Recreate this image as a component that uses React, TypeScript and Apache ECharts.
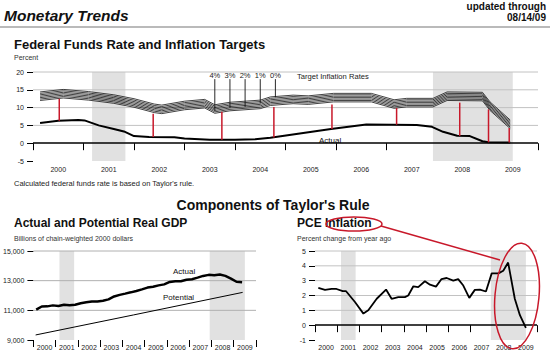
import React, { useEffect, useRef } from 'react';
import * as echarts from 'echarts';

const yearLabels = ['2000', '2001', '2002', '2003', '2004', '2005', '2006', '2007', '2008', '2009'];
const recessions: [number, number][] = [[2001.17, 2001.83], [2007.92, 2009.5]];

// Horizontal grid lines of each panel
const fedGridValues = [5, 10, 15, 20];
const gdpGridValues = [11000, 13000, 15000];
const pceGridValues = [1, 2, 3, 4, 5];

// Top chart: federal funds rate (actual)
const fedActual: [number, number][] = [
  [2000.14, 5.7], [2000.5, 6.3], [2000.9, 6.5], [2001.02, 6.4], [2001.3, 5.0], [2001.6, 4.0],
  [2001.8, 3.3], [2002.0, 2.0], [2002.3, 1.75], [2002.8, 1.7], [2003.0, 1.3], [2003.5, 1.0],
  [2004.0, 1.0], [2004.4, 1.1], [2004.7, 1.5], [2005.9, 4.0], [2006.6, 5.25], [2007.6, 5.1],
  [2007.9, 4.6], [2008.12, 3.2], [2008.4, 2.1], [2008.65, 2.0], [2008.9, 0.55], [2009.02, 0.25],
  [2009.45, 0.2],
];

// Top edge of the Taylor-rule band (0% inflation target)
const bandTop: [number, number][] = [
  [2000.14, 14.4], [2000.6, 15.1], [2001.1, 14.5], [2001.6, 13.6], [2002.0, 12.5], [2002.4, 11.0],
  [2002.55, 10.7], [2003.0, 11.8], [2003.4, 12.3], [2003.6, 10.8], [2003.9, 11.5], [2004.5, 12.1],
  [2004.7, 13.0], [2005.15, 13.5], [2005.45, 13.3], [2005.95, 14.0], [2006.7, 14.0], [2006.95, 13.0],
  [2007.15, 12.2], [2007.4, 12.6], [2007.92, 12.6], [2008.2, 14.4], [2008.9, 14.3], [2009.05, 11.6],
  [2009.45, 6.5],
];
// hatch lines of the band, offset below the top edge
const bandOffsets = [0, 0.4, 0.8, 1.2, 1.6, 2.0, 2.4];

// Red connectors: [date, band value, actual value]
const redLinks: [number, number, number][] = [
  [2000.52, 12.5, 6.3], [2002.38, 8.3, 1.75], [2003.74, 8.8, 1.0], [2004.77, 10.2, 1.6],
  [2005.92, 10.9, 4.0], [2007.2, 9.9, 5.2], [2008.45, 11.4, 2.05], [2009.02, 9.5, 0.25],
  [2009.43, 4.3, 0.2],
];

const targetLabels = ['4%', '3%', '2%', '1%', '0%'];
const targetLeaderX = [2003.6, 2003.9, 2004.2, 2004.5, 2004.8];
const targetLeaderEnd = [9.1, 9.9, 10.2, 11.2, 12.9];

// GDP (quarterly, billions of chain-weighted dollars), 2000Q1 .. 2009Q2
const gdpStart = 2000.125;
const gdpActual = [
  11043, 11258, 11268, 11334,
  11297, 11372, 11340, 11380,
  11477, 11538, 11596, 11599,
  11646, 11738, 11935, 12042,
  12127, 12213, 12304, 12410,
  12534, 12588, 12683, 12749,
  12916, 12962, 12965, 13060,
  13099, 13204, 13321, 13391,
  13367, 13415, 13325, 13142,
  12925, 12901,
];
const gdpPotential: [number, number][] = [[2000.1, 9340], [2004.5, 10690], [2009.4, 12210]];

// PCE inflation, percent change from year ago
const pce: [number, number][] = [
  [2000.15, 2.51], [2000.45, 2.38], [2000.75, 2.44], [2000.97, 2.44], [2001.25, 2.29], [2001.4, 2.29],
  [2001.8, 1.56], [2002.18, 0.78], [2002.4, 1.0], [2002.78, 1.78], [2003.2, 2.4], [2003.45, 1.78],
  [2003.75, 1.89], [2004.05, 1.89], [2004.2, 2.0], [2004.43, 2.62], [2004.65, 2.56], [2004.95, 2.96],
  [2005.18, 2.73], [2005.45, 2.6], [2005.7, 3.11], [2005.93, 3.18], [2006.23, 3.0], [2006.45, 3.1],
  [2006.68, 2.67], [2006.95, 1.84], [2007.2, 2.38], [2007.43, 2.4], [2007.7, 2.27], [2007.96, 3.49],
  [2008.26, 3.49], [2008.48, 3.67], [2008.7, 4.22], [2009.0, 1.78], [2009.23, 0.67], [2009.5, -0.18],
];

const FONT = '"Liberation Sans", Arial, sans-serif';
const RED = '#c8182a';

function catAxis(gridIndex: number, tickLen: number, margin: number) {
  return {
    type: 'category', gridIndex, data: yearLabels, boundaryGap: true, position: 'bottom',
    axisLine: { show: false },
    axisTick: { show: true, length: tickLen, lineStyle: { color: '#000', width: 1 } },
    axisLabel: { fontSize: 7, color: '#222', margin, fontFamily: FONT },
    splitLine: { show: false },
  };
}
function valXAxis(gridIndex: number) {
  return { type: 'value', gridIndex, min: 2000, max: 2010, show: false, splitLine: { show: false } };
}
function valYAxis(gridIndex: number, min: number, max: number, interval: number) {
  return {
    type: 'value', gridIndex, min, max, interval,
    axisLine: { show: false },
    axisTick: { show: true, length: 6, lineStyle: { color: '#000', width: 1 } },
    axisLabel: { fontSize: 7, color: '#222', margin: 9, fontFamily: FONT },
    splitLine: { show: false },
  };
}

function shading(idx: number) {
  return {
    type: 'custom', xAxisIndex: idx * 2 + 1, yAxisIndex: idx, z: 1, silent: true,
    data: recessions,
    renderItem: (params: any, api: any) => {
      const a = api.coord([api.value(0), 0]);
      const b = api.coord([api.value(1), 0]);
      const cs = params.coordSys;
      return { type: 'rect', shape: { x: a[0], y: cs.y, width: b[0] - a[0], height: cs.height }, style: { fill: '#e1e1e1' } };
    },
  };
}

function gridLines(idx: number, values: number[], color: string) {
  return {
    type: 'custom', xAxisIndex: idx * 2 + 1, yAxisIndex: idx, z: 1.5, silent: true,
    data: values.map((v) => [2000, v]),
    renderItem: (params: any, api: any) => {
      const p = api.coord([2000, api.value(1)]);
      const cs = params.coordSys;
      return { type: 'line', shape: { x1: cs.x, y1: p[1], x2: cs.x + cs.width, y2: p[1] }, style: { stroke: color, lineWidth: 1 } };
    },
  };
}

const zeroLine = {
  silent: true, symbol: ['none', 'none'], label: { show: false },
  lineStyle: { color: '#000', width: 1.5, type: 'solid' }, data: [{ yAxis: 0 }],
};

function text(x: number, y: number, t: string, font: string, align = 'left', fill = '#111') {
  return {
    type: 'text', x, y, silent: true,
    style: { text: t, font, fill, textAlign: align, align, textVerticalAlign: 'middle', verticalAlign: 'middle' },
  };
}

export default function App() {
  const ref = useRef<HTMLDivElement>(null);
  useEffect(() => {
    const chart = echarts.init(ref.current!, null, { renderer: 'svg' });
    const bandSeries = bandOffsets.map((off) => ({
      type: 'line', xAxisIndex: 1, yAxisIndex: 0, symbol: 'none', silent: true, z: 3,
      lineStyle: { color: '#111', width: 0.8 },
      data: bandTop.map(([x, y]) => [x, y - off]),
    }));
    const option: any = {
      animation: false,
      backgroundColor: '#fff',
      grid: [
        { left: 33, top: 72, width: 505, height: 89 },
        { left: 33, top: 251, width: 223, height: 89 },
        { left: 315, top: 251, width: 222, height: 89 },
      ],
      xAxis: [catAxis(0, 7, 5), valXAxis(0), catAxis(1, 7, 4), valXAxis(1), catAxis(2, 7, 4), valXAxis(2)],
      yAxis: [valYAxis(0, -5, 20, 5), valYAxis(1, 9000, 15000, 2000), valYAxis(2, -1, 5, 1)],
      series: [
        shading(0), shading(1), shading(2),
        gridLines(0, fedGridValues, '#c2c2c2'),
        gridLines(1, gdpGridValues, '#b0b0b0'),
        gridLines(2, pceGridValues, '#c2c2c2'),
        ...bandSeries,
        {
          type: 'line', xAxisIndex: 1, yAxisIndex: 0, symbol: 'none', silent: true, z: 3,
          lineStyle: { color: '#000', width: 2 }, data: fedActual, markLine: zeroLine,
        },
        {
          type: 'custom', xAxisIndex: 1, yAxisIndex: 0, silent: true, z: 5,
          data: redLinks,
          renderItem: (_p: any, api: any) => {
            const a = api.coord([api.value(0), api.value(1)]);
            const b = api.coord([api.value(0), api.value(2)]);
            return { type: 'line', shape: { x1: a[0], y1: a[1], x2: b[0], y2: b[1] }, style: { stroke: RED, lineWidth: 1.5 } };
          },
        },
        {
          type: 'custom', xAxisIndex: 1, yAxisIndex: 0, silent: true, z: 6,
          data: targetLeaderX.map((x, i) => [x, targetLeaderEnd[i]]),
          renderItem: (p: any, api: any) => {
            const top = api.coord([api.value(0), 18.0]);
            const bot = api.coord([api.value(0), api.value(1)]);
            const lab = api.coord([api.value(0), 19.0]);
            return {
              type: 'group',
              children: [
                { type: 'line', shape: { x1: top[0], y1: top[1], x2: bot[0], y2: bot[1] }, style: { stroke: '#111', lineWidth: 0.9 } },
                {
                  type: 'text', x: lab[0], y: lab[1],
                  style: { text: targetLabels[p.dataIndex], font: '7.5px ' + FONT, fill: '#222', align: 'center', verticalAlign: 'middle', textAlign: 'center', textVerticalAlign: 'middle' },
                },
              ],
            };
          },
        },
        {
          type: 'line', xAxisIndex: 3, yAxisIndex: 1, symbol: 'none', silent: true, z: 3,
          lineStyle: { color: '#000', width: 2.5 },
          data: gdpActual.map((v, i) => [gdpStart + i * 0.25, v]),
        },
        {
          type: 'line', xAxisIndex: 3, yAxisIndex: 1, symbol: 'none', silent: true, z: 3,
          lineStyle: { color: '#000', width: 1 }, data: gdpPotential,
        },
        {
          type: 'line', xAxisIndex: 5, yAxisIndex: 2, symbol: 'none', silent: true, z: 3,
          lineStyle: { color: '#000', width: 1.8 }, data: pce, markLine: zeroLine,
        },
      ],
      graphic: [
        text(4, 15, 'Monetary Trends', 'italic bold 15.5px ' + FONT),
        text(546, 6, 'updated through', 'bold 10px ' + FONT, 'right'),
        text(546, 17, '08/14/09', 'bold 10px ' + FONT, 'right'),
        { type: 'line', silent: true, shape: { x1: 0, y1: 27, x2: 550, y2: 27 }, style: { stroke: '#777', lineWidth: 1.2 } },
        text(14, 44, 'Federal Funds Rate and Inflation Targets', 'bold 13px ' + FONT),
        text(14, 57, 'Percent', '7px ' + FONT, 'left', '#333'),
        text(297, 76, 'Target Inflation Rates', '7.6px ' + FONT, 'left', '#222'),
        text(319, 140, 'Actual', '8px ' + FONT, 'left', '#111'),
        text(14, 183, "Calculated federal funds rate is based on Taylor's rule.", '7.5px ' + FONT, 'left', '#222'),
        text(273, 205, "Components of Taylor's Rule", 'bold 14px ' + FONT, 'center'),
        text(14, 223, 'Actual and Potential Real GDP', 'bold 12px ' + FONT),
        text(14, 238, 'Billions of chain-weighted 2000 dollars', '7px ' + FONT, 'left', '#333'),
        text(173, 271, 'Actual', '8px ' + FONT, 'left', '#111'),
        text(163, 297, 'Potential', '8px ' + FONT, 'left', '#111'),
        text(297, 223, 'PCE Inflation', 'bold 12px ' + FONT),
        text(297, 238, 'Percent change from year ago', '7px ' + FONT, 'left', '#333'),
        { type: 'ellipse', silent: true, z: 100, shape: { cx: 354, cy: 224, rx: 28, ry: 7 }, style: { fill: 'none', stroke: RED, lineWidth: 1.5 } },
        { type: 'ellipse', silent: true, z: 100, x: 517, y: 296, rotation: -0.09, shape: { cx: 0, cy: 0, rx: 22, ry: 53 }, style: { fill: 'none', stroke: RED, lineWidth: 1.5 } },
        { type: 'line', silent: true, z: 100, shape: { x1: 381, y1: 226, x2: 500, y2: 260 }, style: { stroke: RED, lineWidth: 1.5 } },
      ],
    };
    chart.setOption(option);
    return () => chart.dispose();
  }, []);
  return <div ref={ref} style={{ position: 'fixed', left: 0, top: 0, width: 550, height: 357 }} />;
}
